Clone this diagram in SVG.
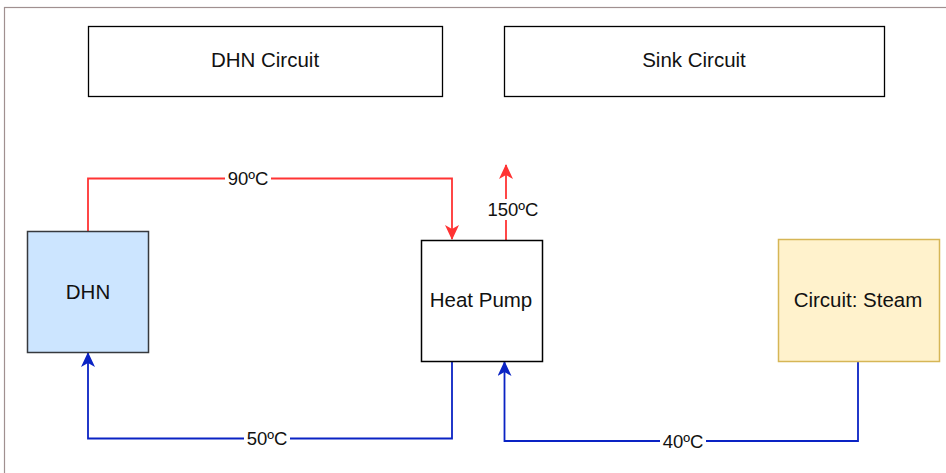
<svg xmlns="http://www.w3.org/2000/svg" width="946" height="473" viewBox="0 0 946 473">
<style>
text{font-family:"Liberation Sans",Arial,sans-serif;fill:#111;text-anchor:middle;dominant-baseline:central}
.n{font-size:20.5px}
.l{font-size:18.5px}
.r{stroke:#ff3333;stroke-width:1.8;fill:none}
.b{stroke:#0a23c4;stroke-width:1.8;fill:none}
.lbg{fill:#fff}
</style>
<defs>
<marker id="ar" markerWidth="15" markerHeight="14" refX="14" refY="7" orient="auto" markerUnits="userSpaceOnUse" viewBox="0 0 15 14">
<path d="M0,0 L15,7 L0,14 L4,7 Z" fill="#ff3333"/>
</marker>
<marker id="ab" markerWidth="15" markerHeight="14" refX="14" refY="7" orient="auto" markerUnits="userSpaceOnUse" viewBox="0 0 15 14">
<path d="M0,0 L15,7 L0,14 L4,7 Z" fill="#0a23c4"/>
</marker>
</defs>
<rect x="0" y="0" width="946" height="473" fill="#fff"/>
<rect x="4.5" y="7.5" width="960" height="480" fill="none" stroke="#a09090" stroke-width="1.2"/>
<g id="dhn-circuit"><rect x="88.5" y="26.5" width="354" height="70" fill="#fff" stroke="#000" stroke-width="1.3"/><text class="n" x="265" y="59">DHN Circuit</text></g>
<g id="sink-circuit"><rect x="504.5" y="26.5" width="380" height="70" fill="#fff" stroke="#000" stroke-width="1.3"/><text class="n" x="694" y="59">Sink Circuit</text></g>
<g id="connectors">
<path class="r" d="M88,231 V178.5 H452 V239" marker-end="url(#ar)"/>
<rect class="lbg" x="225" y="168" width="46" height="21"/>
<text class="l" x="248" y="178">90ºC</text>
<path class="r" d="M506,240 V165" marker-end="url(#ar)"/>
<rect class="lbg" x="486" y="199" width="54" height="21"/>
<text class="l" x="513" y="209">150ºC</text>
<path class="b" d="M452,361 V438.5 H88 V353" marker-end="url(#ab)"/>
<rect class="lbg" x="244" y="428" width="46" height="21"/>
<text class="l" x="267" y="438">50ºC</text>
<path class="b" d="M858,361 V441 H504.5 V362" marker-end="url(#ab)"/>
<rect class="lbg" x="660" y="431" width="46" height="21"/>
<text class="l" x="683" y="441">40ºC</text>
</g>
<g id="dhn"><rect x="27.5" y="231.5" width="121" height="121" fill="#cce5ff" stroke="#36393d" stroke-width="1.5"/><text class="n" x="88" y="291">DHN</text></g>
<g id="heat-pump"><rect x="421.5" y="240.5" width="121" height="121" fill="#fff" stroke="#000" stroke-width="1.5"/><text class="n" x="481" y="299">Heat Pump</text></g>
<g id="steam"><rect x="778.5" y="239.5" width="161" height="122" fill="#fff2cc" stroke="#d6b656" stroke-width="1.5"/><text class="n" x="858" y="299">Circuit: Steam</text></g>
</svg>
